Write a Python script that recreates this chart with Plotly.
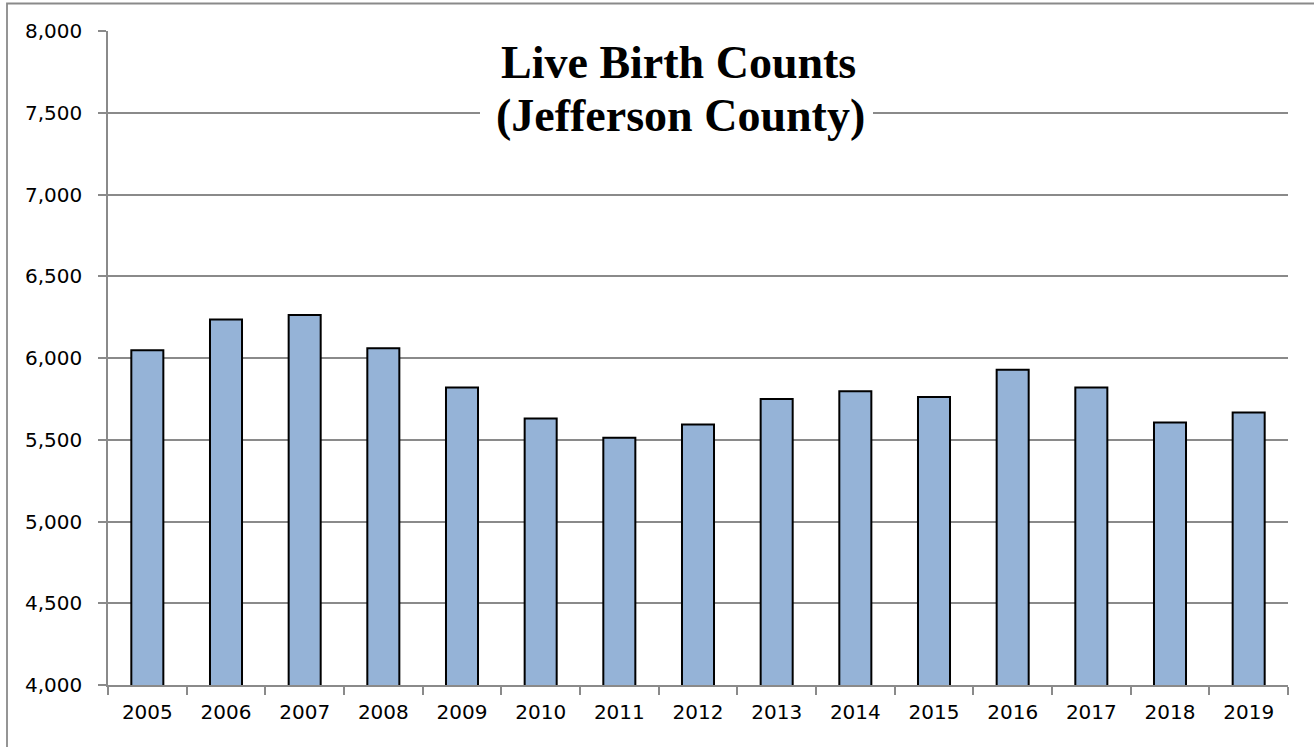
import plotly.graph_objects as go

years = ["2005", "2006", "2007", "2008", "2009", "2010", "2011", "2012",
         "2013", "2014", "2015", "2016", "2017", "2018", "2019"]
births = [6047, 6236, 6263, 6059, 5820, 5630, 5512, 5594,
          5749, 5796, 5761, 5928, 5820, 5605, 5667]
title_line1 = "Live Birth Counts"
title_line2 = "(Jefferson County)"

W, H = 1314, 747
ml, mr, mt, mb = 108, 26, 31, 62
pw, ph = W - ml - mr, H - mt - mb

def px(x):
    return (x - ml) / pw

def py(y):
    return (H - mb - y) / ph

grid = "#8a8a8a"
tick_font = dict(family="DejaVu Sans", size=20, color="black")

fig = go.Figure(go.Bar(
    x=years, y=births,
    marker=dict(color="#95b3d7", line=dict(color="#000000", width=2)),
))

fig.update_layout(
    width=W, height=H,
    margin=dict(l=ml, r=mr, t=mt, b=mb),
    paper_bgcolor="white", plot_bgcolor="white",
    bargap=0.593,
    showlegend=False,
    font=tick_font,
    xaxis=dict(
        type="category", tickson="boundaries", ticks="outside", ticklen=8,
        tickcolor=grid, tickwidth=1.5, showline=True, linecolor=grid, linewidth=1.5,
        showgrid=False, ticklabelstandoff=8, tickfont=tick_font,
    ),
    yaxis=dict(
        range=[4000, 8000], dtick=500, tick0=4000, tickformat=",",
        ticks="outside", ticklen=8, tickcolor=grid, tickwidth=1.5,
        showline=True, linecolor=grid, linewidth=1.5,
        showgrid=True, gridcolor=grid, gridwidth=1.5, zeroline=False,
        ticklabelstandoff=12, tickfont=tick_font,
    ),
    shapes=[
        dict(type="rect", xref="paper", yref="paper",
             x0=px(480), x1=px(873), y0=py(142), y1=py(22),
             fillcolor="white", line=dict(width=0), layer="above"),
        dict(type="rect", xref="paper", yref="paper",
             x0=px(7), x1=px(W + 20), y0=py(H + 20), y1=py(3.5),
             fillcolor="rgba(0,0,0,0)", line=dict(color="#8a8a8a", width=1.8),
             layer="above"),
    ],
    annotations=[
        dict(text="<b>%s</b>" % title_line1, xref="paper", yref="paper",
             x=px(678), y=py(62), xanchor="center", yanchor="middle",
             showarrow=False,
             font=dict(family="Liberation Serif", size=46, color="black")),
        dict(text="<b>%s</b>" % title_line2, xref="paper", yref="paper",
             x=px(680), y=py(116), xanchor="center", yanchor="middle",
             showarrow=False,
             font=dict(family="Liberation Serif", size=46, color="black")),
    ],
)

fig.write_html("out.html", config={"displayModeBar": False},
               post_script="document.body.style.margin='0';")
